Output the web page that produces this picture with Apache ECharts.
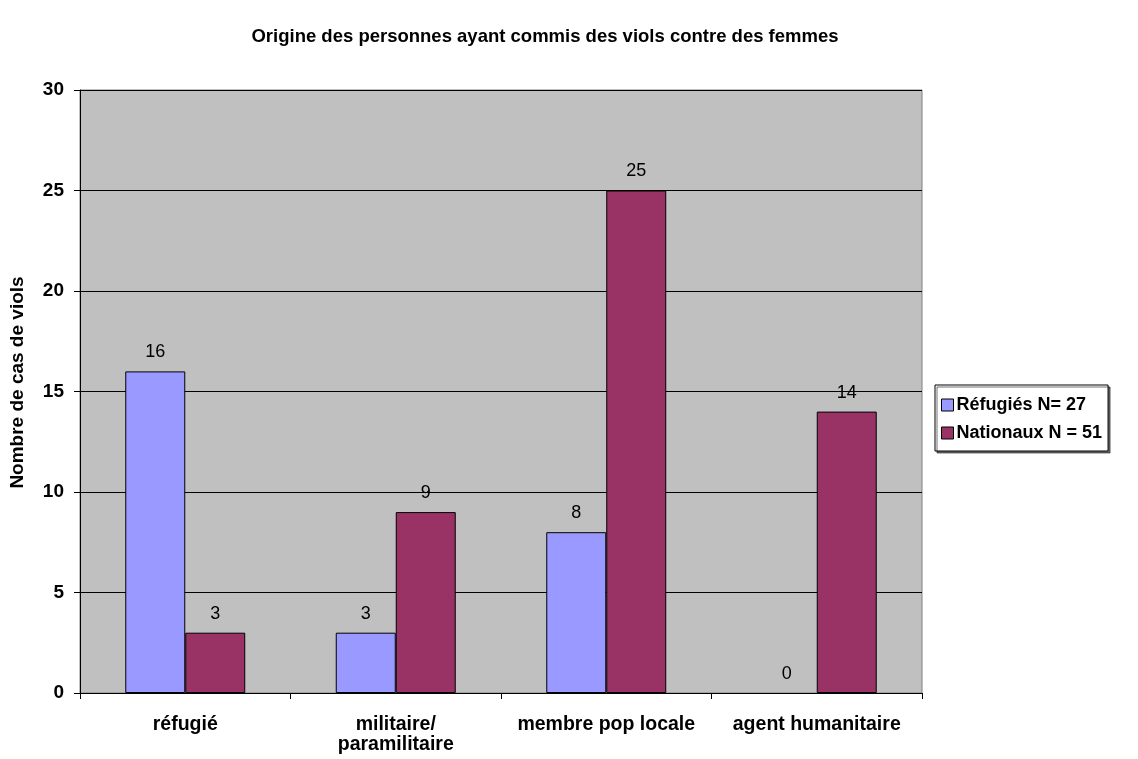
<!DOCTYPE html>
<html><head><meta charset="utf-8">
<script src="https://cdn.jsdelivr.net/npm/echarts@6/dist/echarts.min.js"></script>
<style>html,body{margin:0;padding:0;background:#fff}#c{width:1138px;height:759px}</style>
</head><body><div id="c"></div>
<script>
const categories = ['réfugié', 'militaire/\nparamilitaire', 'membre pop locale', 'agent humanitaire'];
const refugies = [16, 3, 8, 0];
const nationaux = [3, 9, 25, 14];
const seriesNames = ['Réfugiés N= 27', 'Nationaux N = 51'];
const title = 'Origine des personnes ayant commis des viols contre des femmes';
const yName = 'Nombre de cas de viols';

const F = 'Arial, "Liberation Sans", sans-serif';
const chart = echarts.init(document.getElementById('c'), null, {renderer: 'canvas'});
const lbl = {show: true, position: 'top', distance: 10, color: '#000', fontFamily: F, fontSize: 18};
const noZeroBorder = arr => arr.map(v => v === 0 ? {value: v, itemStyle: {borderWidth: 0}} : v);
chart.setOption({
  animation: false,
  title: {text: title, left: 540, top: 22, textAlign: 'center',
    textStyle: {fontFamily: F, fontSize: 18.5, fontWeight: 'bold', color: '#000'}},
  grid: {left: 80, right: 216, top: 90, bottom: 66, outerBoundsMode: 'none', containLabel: false,
    show: true, backgroundColor: '#C0C0C0', borderColor: '#808080', borderWidth: 1},
  legend: {orient: 'vertical', left: 935, top: 385, itemWidth: 12, itemHeight: 12, itemGap: 10,
    padding: [11, 6, 9, 6], backgroundColor: '#fff', borderColor: '#000', borderWidth: 1,
    shadowColor: 'rgba(0,0,0,0.55)', shadowOffsetX: 2, shadowOffsetY: 2, shadowBlur: 0,
    icon: 'rect', itemStyle: {borderColor: '#000', borderWidth: 1},
    textStyle: {fontFamily: F, fontSize: 18, fontWeight: 'bold', color: '#000', padding: [0, 0, 0, -2]},
    data: seriesNames},
  xAxis: {type: 'category', data: categories,
    axisLine: {lineStyle: {color: '#000', width: 1}},
    axisTick: {show: true, length: 6, lineStyle: {color: '#000'}},
    axisLabel: {interval: 0, fontFamily: F, fontSize: 19.5, fontWeight: 'bold', color: '#000', margin: 22, lineHeight: 20}},
  yAxis: {type: 'value', min: 0, max: 30, interval: 5,
    name: yName, nameLocation: 'middle', nameGap: 53, nameRotate: 90,
    nameTextStyle: {fontFamily: F, fontSize: 19, fontWeight: 'bold', color: '#000', padding: [0, 0, 0, 18]},
    axisLine: {show: true, lineStyle: {color: '#000', width: 1}},
    axisTick: {show: true, length: 6, lineStyle: {color: '#000'}},
    axisLabel: {fontFamily: F, fontSize: 19, fontWeight: 'bold', color: '#000', margin: 16},
    splitLine: {lineStyle: {color: '#000', width: 1}}},
  series: [
    {name: seriesNames[0], type: 'bar', data: noZeroBorder(refugies), barGap: '0%', barCategoryGap: '43%',
      itemStyle: {color: '#9999FF', borderColor: '#000', borderWidth: 1}, label: lbl},
    {name: seriesNames[1], type: 'bar', data: noZeroBorder(nationaux),
      itemStyle: {color: '#993366', borderColor: '#000', borderWidth: 1}, label: lbl}
  ]
});
</script></body></html>
